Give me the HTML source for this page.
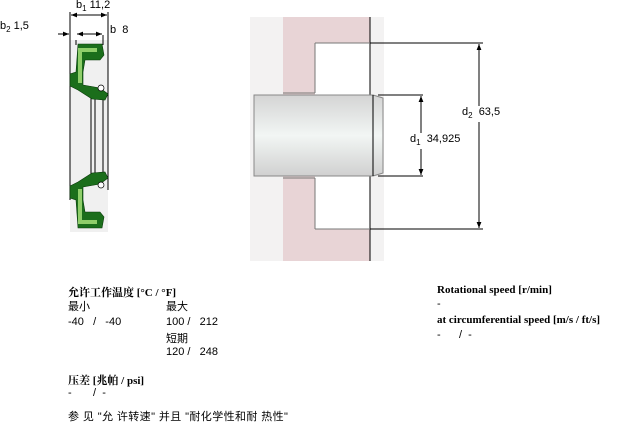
<!DOCTYPE html>
<html><head><meta charset="utf-8"><style>
body{margin:0;width:617px;height:421px;background:#fff;position:relative;overflow:hidden;font-family:"Liberation Sans","Noto Sans CJK SC",sans-serif;font-size:11px;color:#000}
.t{position:absolute;white-space:nowrap}
.b{font-family:"Liberation Serif","Noto Serif CJK SC",serif;font-weight:bold;font-size:11px}
</style></head><body>
<svg width="617" height="421" style="position:absolute;left:0;top:0">
<defs>
<linearGradient id="sh" x1="0" y1="0" x2="0" y2="1">
<stop offset="0" stop-color="#d4d4d4"/><stop offset="0.5" stop-color="#f2f6f4"/><stop offset="1" stop-color="#d0d0d0"/></linearGradient>
<marker id="a" viewBox="0 0 10 10" refX="10" refY="5" markerWidth="6" markerHeight="6" orient="auto-start-reverse"><path d="M0,1 L10,5 L0,9z" fill="#000"/></marker>
</defs>
<rect x="70" y="40" width="38" height="192" fill="#f0f0f0"/>
<line x1="70" y1="12" x2="70" y2="200" stroke="#000"/>
<line x1="108" y1="12" x2="108" y2="190" stroke="#000"/>
<line x1="76" y1="40" x2="76" y2="45" stroke="#000"/>
<line x1="103" y1="35" x2="103" y2="45" stroke="#000"/>
<line x1="71" y1="15" x2="107" y2="15" stroke="#000" marker-start="url(#a)" marker-end="url(#a)"/>
<line x1="58" y1="34" x2="69" y2="34" stroke="#000" marker-end="url(#a)"/>
<line x1="77" y1="34" x2="102" y2="34" stroke="#000" marker-start="url(#a)" marker-end="url(#a)"/>
<line x1="91" y1="98" x2="91" y2="178" stroke="#000"/>
<line x1="95" y1="98" x2="95" y2="178" stroke="#000"/>
<line x1="103" y1="98" x2="103" y2="178" stroke="#000"/>
<path d="M78,44 L102,44 L104,55 L100,60 L85,60 L83,72 L83,85 L100,88 L108,94 L105,100 L92,99 L78,90 L70,86 L70,74 L76,72 Z" fill="#1b6e1b" stroke="#0a3a0a" stroke-width="0.6"/>
<path d="M78,48 L97,48 L97,52 L82,52 L82,83 L78,83 Z" fill="#8fce6a"/>
<path d="M78,228 L102,228 L104,217 L100,212 L85,212 L83,200 L83,187 L100,184 L108,178 L105,172 L92,173 L78,182 L70,186 L70,198 L76,200 Z" fill="#1b6e1b" stroke="#0a3a0a" stroke-width="0.6"/>
<path d="M78,224 L97,224 L97,220 L82,220 L82,189 L78,189 Z" fill="#8fce6a"/>
<circle cx="101" cy="88" r="3" fill="#fff" stroke="#000" stroke-width="0.7"/>
<circle cx="101" cy="185" r="3" fill="#fff" stroke="#000" stroke-width="0.7"/>
<rect x="250" y="17" width="134" height="244" fill="#f3f2f2"/>
<rect x="283" y="17" width="87" height="244" fill="#e8d4d6"/>
<rect x="315" y="43" width="55" height="186" fill="#fff"/>
<path d="M370,17 V261" stroke="#000"/>
<path d="M315,43 H370 M315,43 V93 M315,229 H370 M315,229 V178 M283,93 H315 M283,178 H315" stroke="#777" fill="none"/>
<path d="M254,95 H373 L383,98 L383,173 L373,176 H254 Z" fill="url(#sh)" stroke="#888"/>
<line x1="373" y1="95" x2="373" y2="176" stroke="#000"/>
<line x1="370" y1="43" x2="483" y2="43" stroke="#000"/>
<line x1="370" y1="229" x2="483" y2="229" stroke="#000"/>
<line x1="378" y1="95" x2="423" y2="95" stroke="#000"/>
<line x1="378" y1="176" x2="423" y2="176" stroke="#000"/>
<line x1="421" y1="96" x2="421" y2="175" stroke="#000" marker-start="url(#a)" marker-end="url(#a)"/>
<line x1="479" y1="44" x2="479" y2="228" stroke="#000" marker-start="url(#a)" marker-end="url(#a)"/>
<rect x="408" y="133" width="58" height="16" fill="#fff"/>
<rect x="460" y="106" width="40" height="16" fill="#fff"/>
</svg>
<div class="t" style="left:76px;top:-1px">b<sub style="font-size:8px">1</sub> 11,2</div>
<div class="t" style="left:0px;top:20px">b<sub style="font-size:8px">2</sub> 1,5</div>
<div class="t" style="left:110px;top:24px">b&nbsp; 8</div>
<div class="t" style="left:410px;top:133px">d<sub style="font-size:8px">1</sub>&nbsp; 34,925</div>
<div class="t" style="left:462px;top:106px">d<sub style="font-size:8px">2</sub>&nbsp; 63,5</div>
<div class="t b" style="left:68px;top:284px">允许工作温度 [°C / °F]</div>
<div class="t" style="left:68px;top:298px">最小</div>
<div class="t" style="left:166px;top:298px">最大</div>
<div class="t" style="left:68px;top:316px">-40 &nbsp; / &nbsp; -40</div>
<div class="t" style="left:166px;top:316px">100 / &nbsp; 212</div>
<div class="t" style="left:166px;top:330px">短期</div>
<div class="t" style="left:166px;top:346px">120 / &nbsp; 248</div>
<div class="t b" style="left:68px;top:372px">压差 [兆帕 / psi]</div>
<div class="t" style="left:68px;top:387px">- &nbsp; &nbsp; &nbsp; / &nbsp;-</div>
<div class="t" style="left:68px;top:408px;letter-spacing:0.4px">参 见 "允 许转速" 并且 "耐化学性和耐 热性"</div>
<div class="t b" style="left:437px;top:284px">Rotational speed [r/min]</div>
<div class="t" style="left:437px;top:298px">-</div>
<div class="t b" style="left:437px;top:314px">at circumferential speed [m/s / ft/s]</div>
<div class="t" style="left:437px;top:329px">- &nbsp; &nbsp; &nbsp;/ &nbsp;-</div>
</body></html>
